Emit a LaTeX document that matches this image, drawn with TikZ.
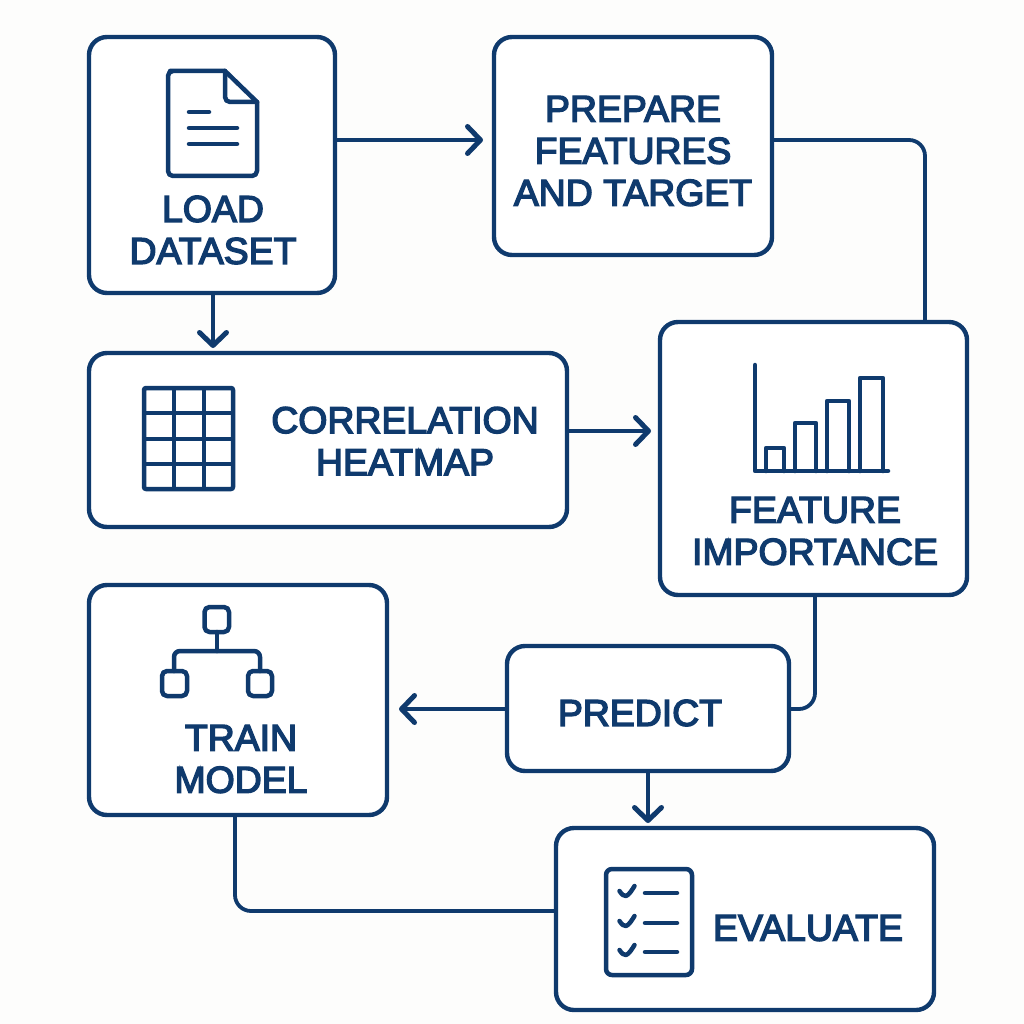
\documentclass[tikz,border=0pt]{standalone}
\usepackage{fontspec}
\setmainfont{Liberation Sans}
\usetikzlibrary{arrows.meta}
\definecolor{ink}{HTML}{0F3A6D}
\definecolor{paper}{HTML}{FDFDFC}
\newcommand{\heavyon}{\special{pdf:code q 2 Tr 1.4 w 0.059 0.227 0.427 RG}}
\newcommand{\heavyoff}{\special{pdf:code Q}}
\tikzset{
  box/.style={draw=ink,line width=4.4pt,rounded corners=18pt,inner sep=0pt,outer sep=0pt,fill=white,anchor=north west},
  lab/.style={text=ink,align=center,inner sep=0pt,font=\fontsize{37.4}{42}\selectfont,
    execute at begin node=\heavyon,execute at end node=\heavyoff},
  link/.style={draw=ink,line width=3.8pt,rounded corners=16pt},
  arrow/.style={link,-{Straight Barb[length=13pt,width=27pt,line width=5pt,line cap=round,line join=round]}},
  icon/.style={draw=ink,line width=4.5pt,line cap=round,line join=round},
}
\begin{document}
\begin{tikzpicture}[x=1pt,y=-1pt]
\useasboundingbox (0,0) rectangle (1024,1024);
\fill[paper] (0,0) rectangle (1024,1024);
% boxes
\node[box,minimum width=246pt,minimum height=256pt] (load) at (89,37) {};
\node[box,minimum width=278pt,minimum height=218pt] (prep) at (494,37) {};
\node[box,minimum width=478pt,minimum height=174pt] (corr) at (89,353) {};
\node[box,minimum width=307pt,minimum height=273pt] (feat) at (660,322) {};
\node[box,minimum width=298pt,minimum height=230pt] (train) at (89,585) {};
\node[box,minimum width=282pt,minimum height=125pt] (pred) at (507,646) {};
\node[box,minimum width=378pt,minimum height=182pt] (eval) at (556,828) {};
% labels
\node[lab] (tload) at (213,230) {LOAD\\DATASET};
\node[lab] (tprep) at (633,151) {PREPARE\\FEATURES\\AND TARGET};
\node[lab] (tcorr) at (405,441) {CORRELATION\\HEATMAP};
\node[lab] (tfeat) at (815,531) {FEATURE\\IMPORTANCE};
\node[lab] (ttrain) at (241,759) {TRAIN\\MODEL};
\node[lab] (tpred) at (640,713) {PREDICT};
\node[lab] (teval) at (808,928) {EVALUATE};
% connectors
\draw[arrow,shorten >=11pt] (load.east |- 0,140) -- (prep.west |- 0,140);
\draw[arrow,shorten >=5pt] (load.south -| 213,0) -- (corr.north -| 213,0);
\draw[link] (prep.east |- 0,140) -- (925,140) -- (feat.north -| 925,0);
\draw[arrow,shorten >=9pt] (corr.east |- 0,431) -- (feat.west |- 0,431);
\draw[link] (feat.south -| 815,0) -- (815,709) -- (pred.east |- 0,709);
\draw[arrow,shorten >=12pt] (pred.west |- 0,709) -- (train.east |- 0,709);
\draw[arrow,shorten >=5pt] (pred.south -| 648,0) -- (eval.north -| 648,0);
\draw[link] (train.south -| 235,0) -- (235,911) -- (eval.west |- 0,911);
% document icon
\draw[icon,rounded corners=5pt] (225,71) -- (175,71) -- (168,71) -- (168,176) -- (257,176) -- (257,102);
\draw[icon] (225,71) -- (257,102);
\draw[icon,rounded corners=5pt] (225,71) -- (225,102) -- (257,102);
\draw[icon] (189,112) -- (209,112) (189,128) -- (237,128) (189,144) -- (237,144);
% grid icon
\draw[icon,rounded corners=2pt] (144,388) rectangle (233,489);
\draw[icon,line cap=butt] (174,388) -- (174,489) (204,388) -- (204,489)
  (144,413) -- (233,413) (144,439) -- (233,439) (144,464) -- (233,464);
% bar chart icon
\draw[icon] (755,365) -- (755,471) -- (888,471);
\draw[icon] (766,471) -- (766,448) -- (784,448) -- (784,471);
\draw[icon] (795,471) -- (795,423) -- (816,423) -- (816,471);
\draw[icon] (827,471) -- (827,401) -- (849,401) -- (849,471);
\draw[icon] (860,471) -- (860,378) -- (883,378) -- (883,471);
% tree icon
\draw[icon,rounded corners=5pt] (204.5,607) rectangle (229,632);
\draw[icon,rounded corners=5pt] (162,671) rectangle (187,696);
\draw[icon,rounded corners=5pt] (248,671) rectangle (272,696);
\draw[icon] (217,632) -- (217,651);
\draw[icon,rounded corners=6pt] (174,671) -- (174,651) -- (260,651) -- (260,671);
% checklist icon
\draw[icon,rounded corners=6pt] (606,869) rectangle (692,975);
\foreach \yy in {893,923,952}{
  \draw[icon] (619.5,\yy-2) .. controls (622,\yy+2) and (624,\yy+3) .. (626,\yy+3) .. controls (629,\yy+2) and (632,\yy-3) .. (634.5,\yy-7);
  \draw[icon] (645,\yy) -- (677,\yy);
}
\end{tikzpicture}
\end{document}
